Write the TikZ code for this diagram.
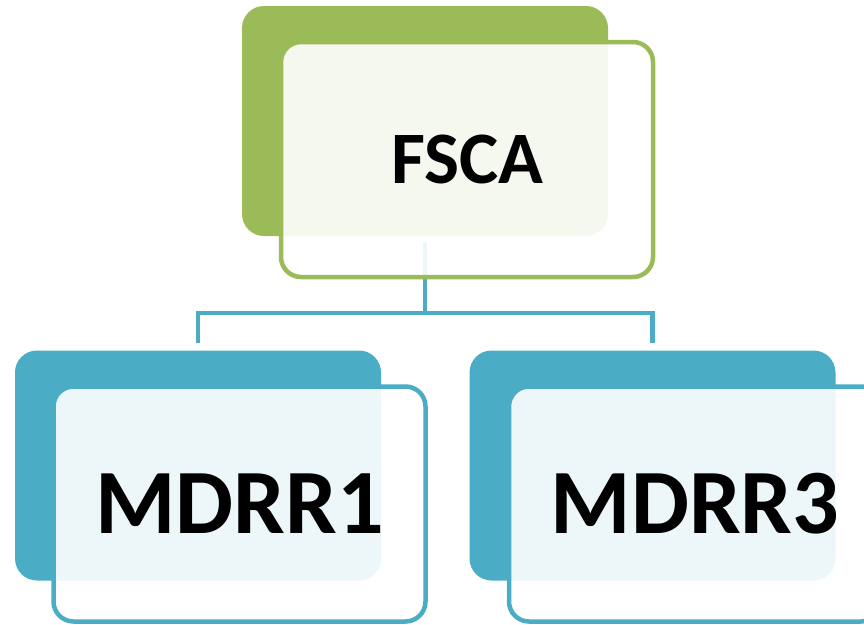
\documentclass[tikz,border=0pt]{standalone}
\usepackage{fontspec}
\setmainfont{Carlito}
\definecolor{ogreen}{HTML}{9BBB59}
\definecolor{oblue}{HTML}{4BACC6}
\tikzset{
  backbox/.style={rectangle, rounded corners=22pt, minimum width=366pt, minimum height=230pt, inner sep=0pt, fill=#1},
  frontbox/.style={rectangle, rounded corners=20pt, minimum width=372pt, minimum height=235pt, inner sep=0pt, draw=#1, line width=4.5pt, fill=white, fill opacity=0.9, text opacity=1, font=\bfseries},
  conn/.style={draw=oblue, line width=4.5pt}
}
\begin{document}
\begin{tikzpicture}[x=1pt,y=-1pt]
\useasboundingbox (0,0) rectangle (864,624);
\clip (0,0) rectangle (864,624);
\node[backbox=ogreen] (fb) at (425,121) {};
\node[backbox=oblue] (b1) at (198,465.5) {};
\node[backbox=oblue] (b3) at (652.5,465.5) {};
\coordinate (top) at ([yshift=-6pt]fb.south);
\draw[conn] (top) -- ++(0,71) coordinate (j);
\draw[conn] (j) -| ([yshift=7pt]b1.north);
\draw[conn] (j) -| ([yshift=7pt]b3.north);
\node[frontbox=ogreen] (f) at (467,159.5) {\fontsize{74}{80}\selectfont FSCA};
\node[frontbox=oblue] (f1) at (239.5,504) {\fontsize{92}{100}\selectfont MDRR1};
\node[frontbox=oblue] (f3) at (695,504) {\fontsize{92}{100}\selectfont MDRR3};
\end{tikzpicture}
\end{document}
